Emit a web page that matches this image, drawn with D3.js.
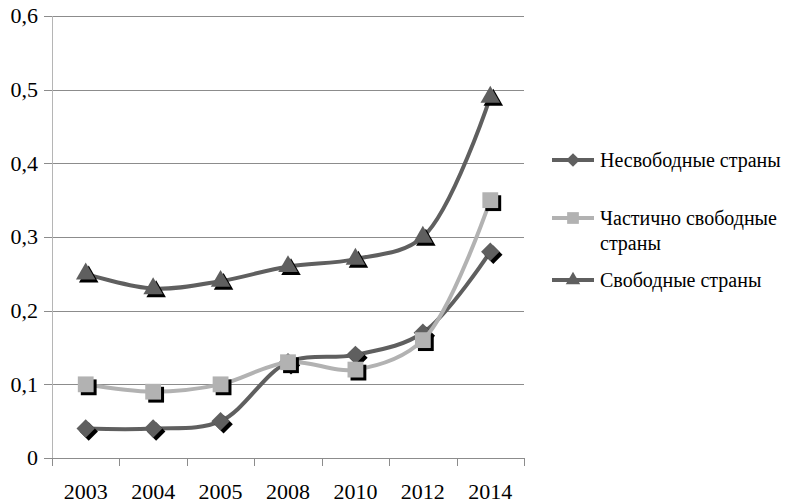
<!DOCTYPE html>
<html>
<head>
<meta charset="utf-8">
<script src="https://cdn.jsdelivr.net/npm/d3@7"></script>
<style>
  html, body { margin: 0; padding: 0; background: #fff; }
  svg { display: block; }
</style>
</head>
<body>
<svg id="chart" width="806" height="503"></svg>
<script>
// Years on the horizontal axis
const years = ["2003", "2004", "2005", "2008", "2010", "2012", "2014"];

// Series values by year
const notFree = [0.04, 0.04, 0.05, 0.13, 0.14, 0.17, 0.28];
const partlyFree = [0.10, 0.09, 0.10, 0.13, 0.12, 0.16, 0.35];
const free = [0.25, 0.23, 0.24, 0.26, 0.27, 0.30, 0.49];

// Series names shown in the legend
const seriesNames = ["Несвободные страны", "Частично свободные страны", "Свободные страны"];

// Y axis ticks
const yTicks = [0, 0.1, 0.2, 0.3, 0.4, 0.5, 0.6];

const FONT = "Liberation Serif";

const series = [
  { name: seriesNames[0], values: notFree, color: "#5f5f5f", symbol: "diamond" },
  { name: seriesNames[1], values: partlyFree, color: "#b2b2b2", symbol: "square" },
  { name: seriesNames[2], values: free, color: "#5f5f5f", symbol: "triangle" }
];

const svg = d3.select("#chart");
const plot = { left: 52, right: 524, top: 16, bottom: 458 };

const x = d3.scaleBand().domain(years).range([plot.left, plot.right]);
const y = d3.scaleLinear().domain([0, 0.6]).range([plot.bottom, plot.top]);
const cx = d => x(d) + x.bandwidth() / 2;

// Horizontal gridlines
svg.append("g")
  .selectAll("line")
  .data(yTicks)
  .join("line")
  .attr("x1", plot.left - 8)
  .attr("x2", plot.right)
  .attr("y1", d => Math.round(y(d)) + 0.5)
  .attr("y2", d => Math.round(y(d)) + 0.5)
  .attr("stroke", "#8c8c8c")
  .attr("stroke-width", 1);

// Y axis line
svg.append("line")
  .attr("x1", plot.left + 0.5).attr("x2", plot.left + 0.5)
  .attr("y1", plot.top).attr("y2", plot.bottom)
  .attr("stroke", "#b5b5b5").attr("stroke-width", 1);

// X axis tick marks at category boundaries
const boundaries = years.map(d => x(d)).concat([plot.right]);
svg.append("g")
  .selectAll("line")
  .data(boundaries)
  .join("line")
  .attr("x1", d => Math.round(d) + 0.5)
  .attr("x2", d => Math.round(d) + 0.5)
  .attr("y1", plot.bottom)
  .attr("y2", plot.bottom + 8)
  .attr("stroke", "#8c8c8c");

// Y axis labels
svg.append("g")
  .selectAll("text")
  .data(yTicks)
  .join("text")
  .attr("x", 38)
  .attr("y", d => y(d))
  .attr("dy", "0.33em")
  .attr("text-anchor", "end")
  .attr("font-family", FONT)
  .attr("font-size", 22)
  .attr("fill", "#000")
  .text(d => d === 0 ? "0" : d3.format(".1f")(d).replace(".", ","));

// X axis labels
svg.append("g")
  .selectAll("text")
  .data(years)
  .join("text")
  .attr("x", d => cx(d))
  .attr("y", 499)
  .attr("text-anchor", "middle")
  .attr("font-family", FONT)
  .attr("font-size", 22)
  .attr("fill", "#000")
  .text(d => d);

// Excel-style diamond: a square turned by 45 degrees
const diamondSym = {
  draw(ctx, size) {
    const r = Math.sqrt(size / 2);
    ctx.moveTo(0, -r);
    ctx.lineTo(r, 0);
    ctx.lineTo(0, r);
    ctx.lineTo(-r, 0);
    ctx.closePath();
  }
};

const symbolType = {
  diamond: diamondSym,
  square: d3.symbolSquare,
  triangle: d3.symbolTriangle
};
const symbolSize = { diamond: 170, square: 250, triangle: 165 };

const line = d3.line()
  .x((d, i) => cx(years[i]))
  .y(d => y(d))
  .curve(d3.curveCatmullRom.alpha(0.5));

const layers = svg.append("g");

series.forEach(s => {
  const g = layers.append("g");
  g.append("path")
    .attr("d", line(s.values))
    .attr("fill", "none")
    .attr("stroke", s.color)
    .attr("stroke-width", 4)
    .attr("stroke-linejoin", "round");

  const sym = d3.symbol().type(symbolType[s.symbol]).size(symbolSize[s.symbol]);
  const pts = g.selectAll("g.pt")
    .data(s.values)
    .join("g")
    .attr("class", "pt")
    .attr("transform", (d, i) => `translate(${cx(years[i])},${y(d)})`);
  // drop shadow
  pts.append("path")
    .attr("d", sym)
    .attr("transform", "translate(3,3)")
    .attr("fill", "#000");
  pts.append("path")
    .attr("d", sym)
    .attr("fill", s.color);
});

// Legend
const legendRows = [
  { s: series[0], y: 160, lines: ["Несвободные страны"] },
  { s: series[1], y: 218, lines: ["Частично свободные", "страны"] },
  { s: series[2], y: 280, lines: ["Свободные страны"] }
];
const legend = svg.append("g");
legendRows.forEach(r => {
  const g = legend.append("g");
  g.append("line")
    .attr("x1", 552).attr("x2", 594)
    .attr("y1", r.y).attr("y2", r.y)
    .attr("stroke", r.s.color).attr("stroke-width", 4);
  const sym = d3.symbol().type(symbolType[r.s.symbol]).size(symbolSize[r.s.symbol] * 0.55);
  g.append("path")
    .attr("d", sym)
    .attr("transform", `translate(573,${r.y})`)
    .attr("fill", r.s.color);
  const t = g.append("text")
    .attr("x", 600)
    .attr("y", r.y)
    .attr("font-family", FONT)
    .attr("font-size", 20)
    .attr("fill", "#000");
  r.lines.forEach((ln, i) => {
    t.append("tspan")
      .attr("x", 600)
      .attr("dy", i === 0 ? "0.33em" : "1.25em")
      .text(ln);
  });
});
</script>
</body>
</html>
